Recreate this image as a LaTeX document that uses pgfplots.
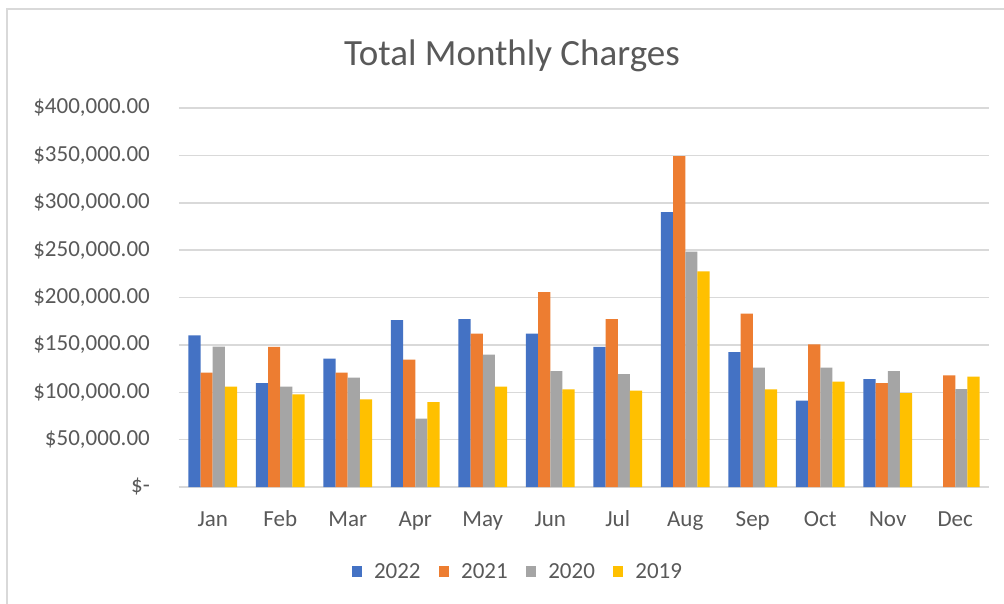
\documentclass[border=0pt]{standalone}
\usepackage{pgfplots}
\pgfplotsset{compat=1.18}
\usepackage{fontspec}
\setmainfont{Carlito}
\definecolor{c22}{HTML}{4472C4}
\definecolor{c21}{HTML}{ED7D31}
\definecolor{c20}{HTML}{A5A5A5}
\definecolor{c19}{HTML}{FFC000}
\definecolor{gridc}{HTML}{D9D9D9}
\definecolor{txt}{HTML}{595959}
\begin{document}
\begin{tikzpicture}
\useasboundingbox (-179pt,-116pt) rectangle (825pt,487pt);
\clip (-179pt,-116pt) rectangle (825pt,487pt);
\fill[white] (-179pt,-116pt) rectangle (825pt,487pt);
\draw[gridc, line width=1.5pt] (-172pt,-200pt) rectangle (900pt,478pt);
\begin{axis}[
  at={(0pt,0pt)}, anchor=south west,
  scale only axis, width=810pt, height=379pt,
  ybar=0pt, bar width=12.2pt,
  xmin=-0.5, xmax=11.5, ymin=0, ymax=400000,
  xtick={0,...,11},
  xticklabels={Jan,Feb,Mar,Apr,May,Jun,Jul,Aug,Sep,Oct,Nov,Dec},
  ytick={0,50000,...,400000},
  yticklabels={{\$-\hspace{8pt}},{\$50,000.00},{\$100,000.00},{\$150,000.00},{\$200,000.00},{\$250,000.00},{\$300,000.00},{\$350,000.00},{\$400,000.00}},
  scaled y ticks=false,
  axis line style={draw=none},
  major tick length=0pt,
  ymajorgrids, grid style={gridc, line width=1.5pt},
  every tick label/.append style={font=\fontsize{23}{28}\selectfont, text=txt},
  yticklabel style={anchor=east, inner sep=0pt, xshift=-29pt},
  xticklabel style={anchor=base, inner sep=0pt, yshift=-39pt},
  legend style={draw=none, fill=none, at={(0.417,-0.224)}, anchor=center,
    font=\fontsize{23}{28}\selectfont, text=txt,
    nodes={inner sep=0pt},
    /tikz/every odd column/.append style={column sep=12pt},
    /tikz/every even column/.append style={column sep=18pt}},
  legend columns=4,
  legend image code/.code={\fill[#1,draw=none] (0pt,-5.5pt) rectangle (10.5pt,5.5pt);},
  clip=false,
]
\draw[gridc, line width=1.5pt] (axis cs:-0.5,0) -- (axis cs:11.5,0);
\addplot[fill=c22, draw=none] coordinates {(0,160000) (1,109700) (2,135400) (3,176200) (4,177200) (5,161800) (6,148000) (7,290100) (8,142400) (9,91100) (10,113900)};
\addplot[fill=c21, draw=none] coordinates {(0,120700) (1,148000) (2,120700) (3,134400) (4,161800) (5,205700) (6,177200) (7,349200) (8,182900) (9,150500) (10,109700) (11,117800)};
\addplot[fill=c20, draw=none] coordinates {(0,148100) (1,106000) (2,115400) (3,72100) (4,139700) (5,122400) (6,119200) (7,248300) (8,126000) (9,126000) (10,122400) (11,103400)};
\addplot[fill=c19, draw=none] coordinates {(0,105900) (1,97800) (2,92500) (3,89700) (4,105900) (5,103000) (6,101700) (7,227500) (8,103000) (9,111200) (10,99200) (11,116500)};
\legend{2022,2021,2020,2019}
\end{axis}
\node[anchor=base, font=\fontsize{37}{44}\selectfont, text=txt, inner sep=0pt] at (333pt,421pt) {Total Monthly Charges};
\end{tikzpicture}
\end{document}
